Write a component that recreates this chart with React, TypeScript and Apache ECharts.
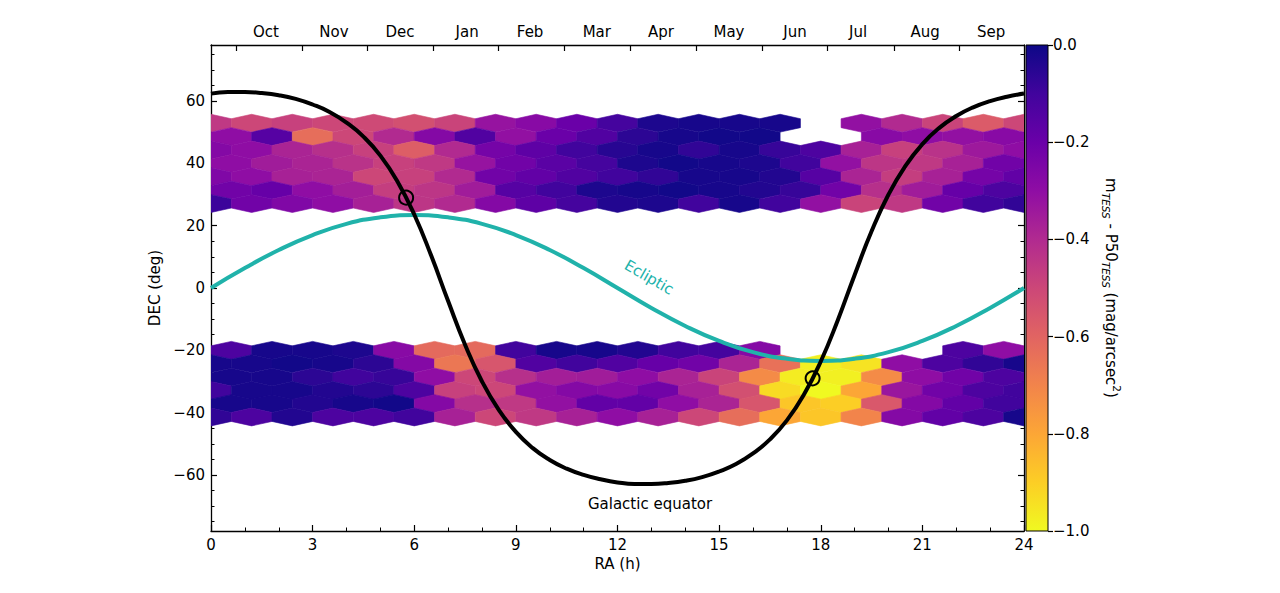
import React, { useEffect, useRef } from "react";
import * as echarts from "echarts";

const FONT = "DejaVu Sans";

// Hexbin centres along RA (h): rows alternate between these two offsets
const RA_EVEN = [0, 1.2, 2.4, 3.6, 4.8, 6, 7.2, 8.4, 9.6, 10.8, 12, 13.2, 14.4, 15.6, 16.8, 18, 19.2, 20.4, 21.6, 22.8, 24];
const RA_ODD = [0.6, 1.8, 3, 4.2, 5.4, 6.6, 7.8, 9, 10.2, 11.4, 12.6, 13.8, 15, 16.2, 17.4, 18.6, 19.8, 21, 22.2, 23.4];

// Northern band, DEC row centres (deg) and m_TESS - P50_TESS per cell (null = empty)
const NORTH_DEC = [52.9, 48.6, 44.3, 40.0, 35.7, 31.4, 27.1];
const north1 = [-0.45, -0.5, -0.48, -0.5, -0.51, -0.53, -0.49, -0.32, -0.28, -0.2, -0.11, -0.03, -0.02, -0.02, -0.02, null, -0.31, -0.4, -0.49, -0.57, -0.5];
const north2 = [-0.3, -0.15, -0.63, -0.5, -0.4, -0.27, -0.14, -0.31, -0.2, -0.14, -0.06, -0.02, -0.01, -0.01, null, null, -0.28, -0.3, -0.31, -0.28];
const north3 = [-0.27, -0.3, -0.38, -0.42, -0.48, -0.58, -0.4, -0.23, -0.17, -0.1, -0.05, -0.02, -0.07, -0.02, -0.08, -0.13, -0.37, -0.48, -0.43, -0.34, -0.3];
const north4 = [-0.3, -0.35, -0.38, -0.43, -0.48, -0.45, -0.32, -0.22, -0.16, -0.11, -0.03, -0.01, -0.02, -0.03, -0.1, -0.31, -0.44, -0.45, -0.37, -0.22];
const north5 = [-0.26, -0.3, -0.37, -0.38, -0.5, -0.48, -0.4, -0.22, -0.18, -0.14, -0.1, -0.07, -0.02, -0.02, -0.04, -0.15, -0.38, -0.47, -0.37, -0.23, -0.18];
const north6 = [-0.22, -0.19, -0.3, -0.36, -0.47, -0.44, -0.35, -0.15, -0.1, -0.03, -0.02, -0.01, -0.02, -0.04, -0.08, -0.22, -0.42, -0.35, -0.19, -0.13];
const north7 = [-0.09, -0.22, -0.26, -0.3, -0.37, -0.44, -0.4, -0.27, -0.17, -0.11, -0.04, -0.03, -0.1, -0.02, -0.1, -0.31, -0.49, -0.45, -0.22, -0.1, -0.07];

// Southern band
const SOUTH_DEC = [-20.0, -24.3, -28.6, -32.9, -37.1, -41.4];
const south1 = [-0.13, -0.02, -0.02, -0.03, -0.28, -0.62, -0.62, -0.1, -0.02, -0.02, -0.04, -0.1, -0.11, -0.27, null, null, null, null, -0.13, -0.3];
const south2 = [-0.02, -0.02, -0.01, -0.02, -0.06, -0.27, -0.66, -0.55, -0.14, -0.1, -0.14, -0.19, -0.22, -0.38, -0.64, -0.98, -0.95, -0.3, -0.13, -0.07, -0.02];
const south3 = [-0.02, -0.02, -0.06, -0.1, -0.08, -0.3, -0.5, -0.42, -0.36, -0.35, -0.3, -0.38, -0.49, -0.72, -0.97, -0.98, -0.72, -0.3, -0.22, -0.13];
const south4 = [-0.1, -0.02, -0.02, -0.04, -0.06, -0.13, -0.48, -0.5, -0.31, -0.27, -0.28, -0.22, -0.37, -0.53, -0.93, -1.0, -0.8, -0.33, -0.22, -0.13, -0.1];
const south5 = [-0.02, -0.02, -0.04, -0.02, -0.01, -0.27, -0.42, -0.45, -0.31, -0.18, -0.18, -0.3, -0.38, -0.55, -0.88, -0.9, -0.56, -0.27, -0.18, -0.1];
const south6 = [-0.07, -0.13, -0.04, -0.13, -0.13, -0.1, -0.37, -0.5, -0.45, -0.37, -0.3, -0.37, -0.5, -0.63, -0.8, -0.88, -0.7, -0.27, -0.18, -0.13, -0.02];

// Galactic equator DEC (deg) every 0.5 h of RA
const GAL_RA = [0, 0.5, 1, 1.5, 2, 2.5, 3, 3.5, 4, 4.5, 5, 5.5, 6, 6.5, 7, 7.5, 8, 8.5, 9, 9.5, 10, 10.5, 11, 11.5, 12, 12.5, 13, 13.5, 14, 14.5, 15, 15.5, 16, 16.5, 17, 17.5, 18, 18.5, 19, 19.5, 20, 20.5, 21, 21.5, 22, 22.5, 23, 23.5, 24];
const GAL_DEC = [62.4, 62.9, 62.9, 62.6, 61.9, 60.7, 58.9, 56.5, 53.1, 48.6, 42.5, 34.3, 23.6, 10.4, -4.2, -18.2, -30.0, -39.2, -46.2, -51.4, -55.2, -58.0, -60.0, -61.4, -62.4, -62.9, -62.9, -62.6, -61.9, -60.7, -58.9, -56.5, -53.1, -48.6, -42.5, -34.3, -23.6, -10.4, 4.2, 18.2, 30.0, 39.2, 46.2, 51.4, 55.2, 58.0, 60.0, 61.4, 62.4];

// Ecliptic DEC (deg) every hour of RA
const ECL_RA = [0, 1, 2, 3, 4, 5, 6, 7, 8, 9, 10, 11, 12, 13, 14, 15, 16, 17, 18, 19, 20, 21, 22, 23, 24];
const ECL_DEC = [0, 6.4, 12.2, 17.0, 20.6, 22.7, 23.4, 22.7, 20.6, 17.0, 12.2, 6.4, 0, -6.4, -12.2, -17.0, -20.6, -22.7, -23.4, -22.7, -20.6, -17.0, -12.2, -6.4, 0];

// Galactic anticentre and centre
const GC_RA = [5.76, 17.76];
const GC_DEC = [29.0, -29.0];

// Axis ticks
const RA_MAJOR = 3;
const DEC_MAJOR = [-60, -40, -20, 0, 20, 40, 60];
const DEC_MINOR = [-75, -70, -65, -60, -55, -50, -45, -40, -35, -30, -25, -20, -15, -10, -5, 0, 5, 10, 15, 20, 25, 30, 35, 40, 45, 50, 55, 60, 65, 70, 75];
const MONTH_TICKS = [0.75, 2.68, 4.62, 6.55, 8.47, 10.42, 12.37, 14.32, 16.27, 18.18, 20.16, 22.08];
const MONTH_CENTERS = [1.62, 3.63, 5.58, 7.56, 9.42, 11.39, 13.28, 15.29, 17.24, 19.1, 21.08, 23.03];
const MONTH_NAMES = ["Oct", "Nov", "Dec", "Jan", "Feb", "Mar", "Apr", "May", "Jun", "Jul", "Aug", "Sep"];
const CBAR_MIN = -1;
const CBAR_MAX = 0;

// plasma, dark end first
const PLASMA = ["#0d0887", "#41049d", "#6a00a8", "#8f0da4", "#b12a90", "#cc4778", "#e16462", "#f2844b", "#fca636", "#fcce25", "#f0f921"];

// hexagon half-extent in data units
const HEX_HALF_W = 0.6;
const HEX_SIDE = 1.43;
const HEX_TIP = 2.86;

function buildHexData() {
  const rows = [
    { dec: NORTH_DEC[0], ra: RA_EVEN, v: north1 },
    { dec: NORTH_DEC[1], ra: RA_ODD, v: north2 },
    { dec: NORTH_DEC[2], ra: RA_EVEN, v: north3 },
    { dec: NORTH_DEC[3], ra: RA_ODD, v: north4 },
    { dec: NORTH_DEC[4], ra: RA_EVEN, v: north5 },
    { dec: NORTH_DEC[5], ra: RA_ODD, v: north6 },
    { dec: NORTH_DEC[6], ra: RA_EVEN, v: north7 },
    { dec: SOUTH_DEC[0], ra: RA_ODD, v: south1 },
    { dec: SOUTH_DEC[1], ra: RA_EVEN, v: south2 },
    { dec: SOUTH_DEC[2], ra: RA_ODD, v: south3 },
    { dec: SOUTH_DEC[3], ra: RA_EVEN, v: south4 },
    { dec: SOUTH_DEC[4], ra: RA_ODD, v: south5 },
    { dec: SOUTH_DEC[5], ra: RA_EVEN, v: south6 },
  ];
  const out: number[][] = [];
  rows.forEach((r) => {
    r.v.forEach((val, i) => {
      if (val !== null) out.push([r.ra[i], r.dec, val as number]);
    });
  });
  return out;
}

const axisLineStyle = { onZero: false, lineStyle: { color: "#000", width: 1.3 } };
const labelStyle = { color: "#000", fontFamily: FONT, fontSize: 15 };
const minus = (v: number) => (v < 0 ? "\u2212" + Math.abs(v) : String(v));

export default function App() {
  const ref = useRef<HTMLDivElement>(null);

  useEffect(() => {
    if (!ref.current) return;
    const chart = echarts.init(ref.current, null, { renderer: "svg" });
    const hexData = buildHexData();

    const option: any = {
      animation: false,
      backgroundColor: "#fff",
      grid: [
        { left: 211, top: 45, width: 813, height: 486 },
        { left: 1026, top: 45, width: 22, height: 486 },
      ],
      visualMap: {
        type: "continuous",
        show: false,
        min: CBAR_MIN,
        max: CBAR_MAX,
        dimension: 2,
        seriesIndex: 0,
        inRange: { color: PLASMA.slice().reverse() },
      },
      xAxis: [
        {
          type: "value",
          gridIndex: 0,
          position: "bottom",
          min: 0,
          max: 24,
          interval: RA_MAJOR,
          axisLine: axisLineStyle,
          axisTick: { inside: true, length: 6, lineStyle: { color: "#000", width: 1.2 } },
          minorTick: { show: true, splitNumber: 3, length: 3.5, lineStyle: { color: "#000", width: 1 } },
          axisLabel: { ...labelStyle, margin: 6 },
          splitLine: { show: false },
          name: "RA (h)",
          nameLocation: "middle",
          nameGap: 25,
          nameTextStyle: labelStyle,
        },
        {
          type: "value",
          gridIndex: 0,
          position: "top",
          min: 0,
          max: 24,
          axisLine: axisLineStyle,
          axisTick: { inside: true, length: 6, customValues: MONTH_TICKS, lineStyle: { color: "#000", width: 1.2 } },
          axisLabel: {
            ...labelStyle,
            margin: 6,
            customValues: MONTH_CENTERS,
            formatter: (v: number) => {
              let best = 0;
              MONTH_CENTERS.forEach((c, i) => {
                if (Math.abs(c - v) < Math.abs(MONTH_CENTERS[best] - v)) best = i;
              });
              return MONTH_NAMES[best];
            },
          },
          splitLine: { show: false },
        },
        { type: "value", gridIndex: 1, min: 0, max: 1, show: false },
      ],
      yAxis: [
        {
          type: "value",
          gridIndex: 0,
          position: "left",
          min: -78,
          max: 78,
          axisLine: axisLineStyle,
          axisTick: { inside: true, length: 6, customValues: DEC_MAJOR, lineStyle: { color: "#000", width: 1.2 } },
          axisLabel: { ...labelStyle, margin: 6, customValues: DEC_MAJOR, formatter: (v: number) => minus(v) },
          splitLine: { show: false },
          name: "DEC (deg)",
          nameLocation: "middle",
          nameRotate: 90,
          nameGap: 42,
          nameTextStyle: labelStyle,
        },
        {
          type: "value",
          gridIndex: 0,
          position: "left",
          min: -78,
          max: 78,
          axisLine: { show: false, onZero: false },
          axisTick: { inside: true, length: 3.5, customValues: DEC_MINOR, lineStyle: { color: "#000", width: 1 } },
          axisLabel: { show: false },
          splitLine: { show: false },
        },
        {
          type: "value",
          gridIndex: 0,
          position: "right",
          min: -78,
          max: 78,
          axisLine: axisLineStyle,
          axisTick: { inside: true, length: 6, customValues: DEC_MAJOR, lineStyle: { color: "#000", width: 1.2 } },
          axisLabel: { show: false },
          splitLine: { show: false },
        },
        {
          type: "value",
          gridIndex: 0,
          position: "right",
          min: -78,
          max: 78,
          axisLine: { show: false, onZero: false },
          axisTick: { inside: true, length: 3.5, customValues: DEC_MINOR, lineStyle: { color: "#000", width: 1 } },
          axisLabel: { show: false },
          splitLine: { show: false },
        },
        {
          type: "value",
          gridIndex: 1,
          position: "right",
          min: CBAR_MIN,
          max: CBAR_MAX,
          interval: 0.2,
          axisLine: { show: false, onZero: false },
          axisTick: { show: true, inside: false, length: 5, lineStyle: { color: "#000", width: 1.2 } },
          axisLabel: {
            ...labelStyle,
            margin: 5,
            formatter: (v: number) => (Math.abs(v) < 1e-9 ? "0.0" : "\u2212" + Math.abs(v).toFixed(1)),
          },
          splitLine: { show: false },
          name: "{m|m}{s|TESS}{m| - P50}{s|TESS}{m| (mag/arcsec}{p|2}{m|)}",
          nameLocation: "middle",
          nameRotate: -90,
          nameGap: 52,
          nameTextStyle: {
            ...labelStyle,
            rich: {
              m: { fontFamily: FONT, fontSize: 15, color: "#000", lineHeight: 22, verticalAlign: "middle" },
              s: { fontFamily: FONT, fontSize: 10.5, fontStyle: "italic", color: "#000", lineHeight: 12, verticalAlign: "bottom" },
              p: { fontFamily: FONT, fontSize: 10.5, color: "#000", lineHeight: 12, verticalAlign: "top" },
            },
          },
        },
      ],
      series: [
        {
          type: "custom",
          xAxisIndex: 0,
          yAxisIndex: 0,
          clip: true,
          encode: { x: 0, y: 1 },
          data: hexData,
          renderItem: (params: any, api: any) => {
            const ra = api.value(0);
            const dec = api.value(1);
            const pts = [
              [ra + HEX_HALF_W, dec - HEX_SIDE],
              [ra + HEX_HALF_W, dec + HEX_SIDE],
              [ra, dec + HEX_TIP],
              [ra - HEX_HALF_W, dec + HEX_SIDE],
              [ra - HEX_HALF_W, dec - HEX_SIDE],
              [ra, dec - HEX_TIP],
            ].map((p) => api.coord(p));
            const c = api.visual("color");
            return {
              type: "polygon",
              shape: { points: pts },
              style: { fill: c, stroke: c, lineWidth: 0.6 },
            };
          },
          z: 1,
        },
        {
          type: "line",
          xAxisIndex: 0,
          yAxisIndex: 0,
          data: ECL_RA.map((r, i) => [r, ECL_DEC[i]]),
          showSymbol: false,
          smooth: true,
          lineStyle: { color: "#20b2aa", width: 4 },
          z: 3,
        },
        {
          type: "line",
          xAxisIndex: 0,
          yAxisIndex: 0,
          data: GAL_RA.map((r, i) => [r, GAL_DEC[i]]),
          showSymbol: false,
          smooth: true,
          lineStyle: { color: "#000", width: 4 },
          z: 4,
        },
        {
          type: "scatter",
          xAxisIndex: 0,
          yAxisIndex: 0,
          data: GC_RA.map((r, i) => [r, GC_DEC[i]]),
          symbol: "circle",
          symbolSize: 14,
          itemStyle: { color: "rgba(0,0,0,0)", borderColor: "#000", borderWidth: 2, opacity: 1 },
          z: 5,
        },
        {
          type: "scatter",
          xAxisIndex: 0,
          yAxisIndex: 0,
          symbolSize: 0,
          silent: true,
          itemStyle: { opacity: 1 },
          data: [
            { value: [12.93, 3.4], label: { formatter: "Ecliptic", rotate: -30, color: "#20b2aa" } },
            { value: [12.96, -69.3], label: { formatter: "Galactic equator", color: "#000" } },
          ],
          label: { show: true, position: "inside", fontFamily: FONT, fontSize: 15, textBorderWidth: 0, opacity: 1 },
          z: 6,
        },
        {
          type: "custom",
          xAxisIndex: 2,
          yAxisIndex: 4,
          data: [[0, 0]],
          renderItem: (params: any, api: any) => {
            const p0 = api.coord([0, CBAR_MAX]);
            const p1 = api.coord([1, CBAR_MIN]);
            const stops = PLASMA.map((c, i) => ({ offset: i / (PLASMA.length - 1), color: c }));
            return {
              type: "rect",
              shape: { x: p0[0], y: p0[1], width: p1[0] - p0[0], height: p1[1] - p0[1] },
              style: {
                fill: new echarts.graphic.LinearGradient(0, 0, 0, 1, stops),
                stroke: "#000",
                lineWidth: 1,
              },
            };
          },
        },
      ],
    };

    chart.setOption(option);
    return () => chart.dispose();
  }, []);

  return (
    <div
      ref={ref}
      style={{ position: "absolute", left: 0, top: 0, width: 1280, height: 593, background: "#fff" }}
    />
  );
}
